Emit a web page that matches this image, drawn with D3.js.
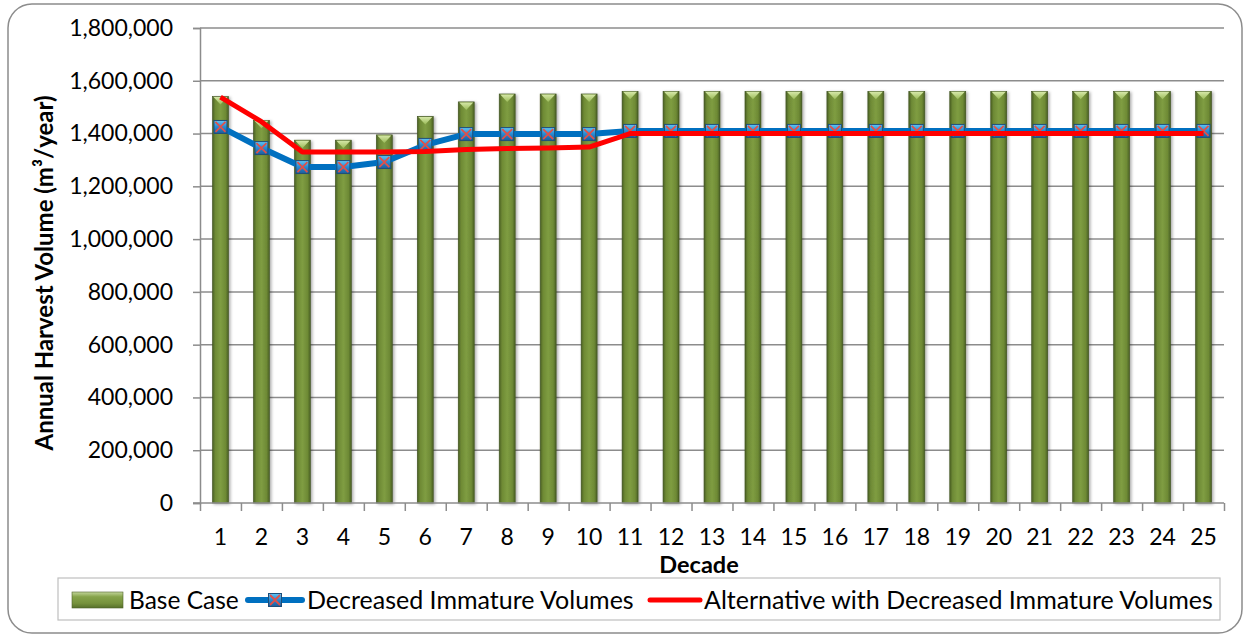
<!DOCTYPE html>
<html>
<head>
<meta charset="utf-8">
<script src="https://cdn.jsdelivr.net/npm/d3@7"></script>
<style>
  body { margin: 0; background: #fff; }
  svg { display: block; }
  text { font-family: Lato, "Open Sans", sans-serif; fill: #000; }
</style>
</head>
<body>
<svg id="chart" width="1249" height="639"></svg>
<script>
// Annual harvest volume by decade, three scenarios
const decades = ["1","2","3","4","5","6","7","8","9","10","11","12","13","14","15","16","17","18","19","20","21","22","23","24","25"];
const baseCase = [1540000,1450000,1375000,1375000,1395000,1465000,1520000,1550000,1550000,1550000,
                  1560000,1560000,1560000,1560000,1560000,1560000,1560000,1560000,1560000,1560000,
                  1560000,1560000,1560000,1560000,1560000];
const decreasedImmature = [1425000,1345000,1273000,1273000,1292000,1357000,1398000,1398000,1398000,1398000,
                           1410000,1410000,1410000,1410000,1410000,1410000,1410000,1410000,1410000,1410000,
                           1410000,1410000,1410000,1410000,1410000];
const alternative = [1538000,1445000,1330000,1330000,1330000,1332000,1340000,1343000,1345000,1349000,
                     1400000,1400000,1400000,1400000,1400000,1400000,1400000,1400000,1400000,1400000,
                     1400000,1400000,1400000,1400000,1400000];
const yTicks = [0,200000,400000,600000,800000,1000000,1200000,1400000,1600000,1800000];
const seriesNames = ["Base Case","Decreased Immature Volumes","Alternative with Decreased Immature Volumes"];

const svg = d3.select("#chart");
const plot = { left: 200, right: 1224, top: 28, bottom: 503 };

const x = d3.scaleBand().domain(decades).range([plot.left, plot.right]);
const y = d3.scaleLinear().domain([0, 1800000]).range([plot.bottom, plot.top]);
const bw = x.bandwidth();
const barW = bw * 0.39;

// gradients
const defs = svg.append("defs");
const barGrad = defs.append("linearGradient").attr("id","barBody").attr("x1","0").attr("x2","1").attr("y1","0").attr("y2","0");
[["0%","#4a5f24"],["18%","#6e8a35"],["50%","#7f9d42"],["82%","#6e8a35"],["100%","#4a5f24"]]
  .forEach(([o,c]) => barGrad.append("stop").attr("offset",o).attr("stop-color",c));
const capGrad = defs.append("linearGradient").attr("id","barCap").attr("x1","0").attr("x2","0").attr("y1","0").attr("y2","1");
[["0%","#d6e8a8"],["100%","#9bbb59"]].forEach(([o,c]) => capGrad.append("stop").attr("offset",o).attr("stop-color",c));
const swGrad = defs.append("linearGradient").attr("id","swatch").attr("x1","0").attr("x2","0").attr("y1","0").attr("y2","1");
[["0%","#c3d69b"],["30%","#86a34a"],["70%","#76923c"],["100%","#56702a"]].forEach(([o,c]) => swGrad.append("stop").attr("offset",o).attr("stop-color",c));
const mkGrad = defs.append("linearGradient").attr("id","marker").attr("x1","0").attr("x2","0").attr("y1","0").attr("y2","1");
[["0%","#63c6f5"],["45%","#2a8fd6"],["100%","#1c5c9c"]].forEach(([o,c]) => mkGrad.append("stop").attr("offset",o).attr("stop-color",c));
const shadow = defs.append("filter").attr("id","shadow").attr("x","-30%").attr("y","-10%").attr("width","160%").attr("height","120%");
shadow.append("feDropShadow").attr("dx",1.5).attr("dy",1).attr("stdDeviation",1.5).attr("flood-color","#000").attr("flood-opacity",0.35);

// outer frame
svg.append("rect").attr("x",8).attr("y",4).attr("width",1234).attr("height",629)
  .attr("rx",24).attr("fill","#fff").attr("stroke","#8c8c8c").attr("stroke-width",1.5);

// gridlines
svg.append("g").selectAll("line").data(yTicks.filter(d => d > 0)).join("line")
  .attr("x1",plot.left).attr("x2",plot.right)
  .attr("y1",d => y(d)).attr("y2",d => y(d))
  .attr("stroke","#8c8c8c").attr("stroke-width",1.5);

// y axis
const yAxis = svg.append("g").attr("transform",`translate(${plot.left},0)`)
  .call(d3.axisLeft(y).tickValues(yTicks).tickFormat(d3.format(",")).tickSize(7).tickPadding(20));
yAxis.selectAll("path, line").attr("stroke","#8c8c8c").attr("stroke-width",1.5);
yAxis.selectAll("text").style("font-size","23px").style("font-family","Lato, sans-serif").attr("fill","#000");

// bars
const bars = svg.append("g").selectAll("g").data(baseCase).join("g")
  .attr("filter","url(#shadow)");
bars.append("rect")
  .attr("x",(d,i) => x(decades[i]) + (bw - barW)/2)
  .attr("y",d => y(d))
  .attr("width",barW)
  .attr("height",d => y(0) - y(d))
  .attr("fill","url(#barBody)")
  .attr("stroke","#3f5220").attr("stroke-width",0.6);
bars.append("path")
  .attr("d",(d,i) => {
    const x0 = x(decades[i]) + (bw - barW)/2, x1 = x0 + barW, t = y(d);
    return `M${x0+1},${t+0.5} L${x1-1},${t+0.5} L${(x0+x1)/2},${t+8} Z`;
  })
  .attr("fill","url(#barCap)");

// x axis: boundary ticks and centred labels
const xEdge = d3.scaleLinear().domain([0,25]).range([plot.left, plot.right]);
const xTicks = svg.append("g").attr("transform",`translate(0,${plot.bottom})`)
  .call(d3.axisBottom(xEdge).ticks(25).tickSize(8).tickFormat(""));
xTicks.selectAll("path, line").attr("stroke","#8c8c8c").attr("stroke-width",1.5);
xTicks.select("path").attr("d",`M${plot.left-7},0H${plot.right}`);
const xLabels = svg.append("g").attr("transform",`translate(0,${plot.bottom})`)
  .call(d3.axisBottom(x).tickSize(0).tickPadding(26));
xLabels.select("path").remove();
xLabels.selectAll("text").style("font-size","23px").style("font-family","Lato, sans-serif").attr("fill","#000");

// lines
const cx = i => x(decades[i]) + bw/2;
const line = d3.line().x((d,i) => cx(i)).y(d => y(d));
svg.append("path").datum(decreasedImmature).attr("d",line)
  .attr("fill","none").attr("stroke","#0070c0").attr("stroke-width",6).attr("stroke-linejoin","round");

function marker(g, px, py) {
  const s = 13;
  g.append("rect").attr("x",px - s/2).attr("y",py - s/2).attr("width",s).attr("height",s)
    .attr("fill","url(#marker)").attr("stroke","#1f4e79").attr("stroke-width",1);
  g.append("path").attr("d",`M${px-5},${py-5}L${px+5},${py+5}M${px+5},${py-5}L${px-5},${py+5}`)
    .attr("stroke","#e0504a").attr("stroke-width",1.8);
}
const mk = svg.append("g");
decreasedImmature.forEach((d,i) => marker(mk, cx(i), y(d)));

svg.append("path").datum(alternative).attr("d",line)
  .attr("fill","none").attr("stroke","#ff0000").attr("stroke-width",5).attr("stroke-linejoin","round");

// axis titles
svg.append("text").attr("transform","translate(53,273) rotate(-90)")
  .attr("text-anchor","middle").style("font-size","24px").style("font-weight","bold")
  .text("Annual Harvest Volume (m³/year)");
svg.append("text").attr("x",699).attr("y",573).attr("text-anchor","middle")
  .style("font-size","23.5px").style("font-weight","bold").text("Decade");

// legend
const lg = svg.append("g");
lg.append("rect").attr("x",58).attr("y",578).attr("width",1162).attr("height",42)
  .attr("fill","#fff").attr("stroke","#bfbfbf").attr("stroke-width",1.2);
const ly = 600;
lg.append("rect").attr("x",72).attr("y",592).attr("width",51).attr("height",16)
  .attr("fill","url(#swatch)").attr("stroke","#4f6228").attr("stroke-width",0.6);
lg.append("text").attr("x",129).attr("y",ly).attr("dy","0.35em").style("font-size","24.5px").text(seriesNames[0]);
lg.append("line").attr("x1",248).attr("x2",302).attr("y1",ly).attr("y2",ly)
  .attr("stroke","#0070c0").attr("stroke-width",6).attr("stroke-linecap","round");
marker(lg, 275, ly);
lg.append("text").attr("x",307).attr("y",ly).attr("dy","0.35em").style("font-size","25px").text(seriesNames[1]);
lg.append("line").attr("x1",650).attr("x2",700).attr("y1",ly).attr("y2",ly)
  .attr("stroke","#ff0000").attr("stroke-width",5).attr("stroke-linecap","round");
lg.append("text").attr("x",704).attr("y",ly).attr("dy","0.35em").style("font-size","25px").text(seriesNames[2]);
</script>
</body>
</html>
